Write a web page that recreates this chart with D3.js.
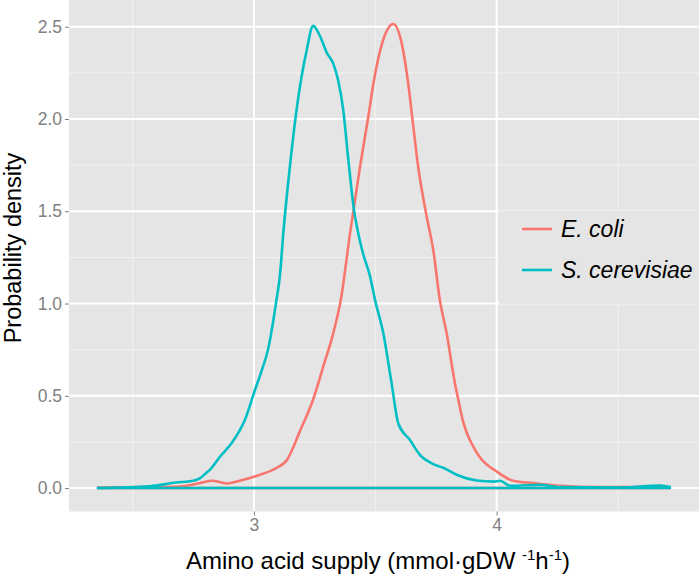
<!DOCTYPE html>
<html>
<head>
<meta charset="utf-8">
<script src="https://cdn.jsdelivr.net/npm/d3@7"></script>
<style>
  body { margin: 0; background: #fff; }
  text { font-family: "Liberation Sans", Arial, sans-serif; }
</style>
</head>
<body>
<div id="chart"></div>
<script>
// density curves (x in mmol/gDW/h, y = density)
const species = ["E. coli", "S. cerevisiae"];
const colors = ["#F8766D", "#00BFC4"];

const ecoliX = [2.353, 2.571, 2.695, 2.778, 2.827, 2.888, 2.956, 3.016, 3.094, 3.135, 3.190, 3.244, 3.286, 3.327, 3.358, 3.396, 3.437, 3.471, 3.492, 3.533, 3.574, 3.609, 3.636, 3.655, 3.677, 3.712, 3.739, 3.766, 3.794, 3.828, 3.842, 3.862, 3.880, 3.910, 3.935, 4.000, 4.068, 4.151, 4.261, 4.426, 4.600, 4.718];
const ecoliY = [0.003, 0.005, 0.008, 0.027, 0.040, 0.025, 0.045, 0.068, 0.110, 0.150, 0.310, 0.480, 0.660, 0.840, 1.020, 1.380, 1.740, 2.010, 2.190, 2.430, 2.515, 2.410, 2.190, 1.980, 1.740, 1.470, 1.290, 1.020, 0.840, 0.570, 0.480, 0.360, 0.290, 0.210, 0.160, 0.090, 0.040, 0.027, 0.012, 0.005, 0.006, 0.003];

const yeastX = [2.353, 2.571, 2.679, 2.749, 2.765, 2.802, 2.819, 2.860, 2.909, 2.963, 3.004, 3.033, 3.058, 3.093, 3.107, 3.121, 3.148, 3.181, 3.217, 3.244, 3.272, 3.300, 3.327, 3.347, 3.368, 3.389, 3.412, 3.430, 3.450, 3.478, 3.499, 3.533, 3.567, 3.595, 3.643, 3.684, 3.739, 3.780, 3.835, 3.918, 3.990, 4.014, 4.055, 4.178, 4.261, 4.508, 4.673, 4.718];
const yeastY = [0.000, 0.010, 0.030, 0.040, 0.045, 0.080, 0.100, 0.170, 0.245, 0.370, 0.530, 0.640, 0.750, 1.020, 1.150, 1.380, 1.740, 2.100, 2.370, 2.505, 2.450, 2.360, 2.300, 2.210, 2.050, 1.780, 1.510, 1.380, 1.270, 1.150, 1.020, 0.840, 0.570, 0.350, 0.260, 0.180, 0.130, 0.110, 0.072, 0.041, 0.035, 0.040, 0.012, 0.018, 0.005, 0.003, 0.014, 0.005];

const xTicks = [3, 4];
const xMinor = [2.5, 3.5, 4.5];
const yTicks = [0, 0.5, 1, 1.5, 2, 2.5];
const yMinor = [0.25, 0.75, 1.25, 1.75, 2.25];

const width = 700, height = 575;
const panel = { left: 69, right: 699, top: 0, bottom: 511.5 };

const svg = d3.select("#chart").append("svg")
    .attr("width", width)
    .attr("height", height);

const x = d3.scaleLinear().domain([2.238, 4.834]).range([panel.left, panel.right]);
const y = d3.scaleLinear().domain([-0.127, 2.645]).range([panel.bottom, panel.top]);

// panel background
svg.append("rect")
    .attr("x", panel.left).attr("y", panel.top)
    .attr("width", panel.right - panel.left)
    .attr("height", panel.bottom - panel.top)
    .attr("fill", "#E5E5E5");

// minor grid
svg.append("g").selectAll("line").data(yMinor).join("line")
    .attr("x1", panel.left).attr("x2", panel.right)
    .attr("y1", d => y(d)).attr("y2", d => y(d))
    .attr("stroke", "#F2F2F2").attr("stroke-width", 1);
svg.append("g").selectAll("line").data(xMinor).join("line")
    .attr("y1", panel.top).attr("y2", panel.bottom)
    .attr("x1", d => x(d)).attr("x2", d => x(d))
    .attr("stroke", "#F2F2F2").attr("stroke-width", 1);

// major grid
svg.append("g").selectAll("line").data(yTicks).join("line")
    .attr("x1", panel.left).attr("x2", panel.right)
    .attr("y1", d => y(d)).attr("y2", d => y(d))
    .attr("stroke", "#fff").attr("stroke-width", 2);
svg.append("g").selectAll("line").data(xTicks).join("line")
    .attr("y1", panel.top).attr("y2", panel.bottom)
    .attr("x1", d => x(d)).attr("x2", d => x(d))
    .attr("stroke", "#fff").attr("stroke-width", 2);

// density outlines (closed along the baseline, like geom_density)
const series = [
    ecoliX.map((v, i) => [v, ecoliY[i]]),
    yeastX.map((v, i) => [v, yeastY[i]])
];
const curve = d3.line()
    .x(d => x(d[0])).y(d => y(d[1]))
    .curve(d3.curveMonotoneX);

series.forEach((pts, i) => {
    const g = svg.append("g");
    g.append("path")
        .attr("d", curve(pts))
        .attr("fill", "none")
        .attr("stroke", colors[i])
        .attr("stroke-width", 2.6);
    g.append("line")
        .attr("x1", x(pts[0][0])).attr("x2", x(pts[pts.length - 1][0]))
        .attr("y1", y(0)).attr("y2", y(0))
        .attr("stroke", colors[i])
        .attr("stroke-width", 2.6);
});

// axes
const yAxis = svg.append("g")
    .attr("transform", `translate(${panel.left},0)`)
    .call(d3.axisLeft(y).tickValues(yTicks).tickFormat(d3.format(".1f")).tickSize(4).tickPadding(3));
const xAxis = svg.append("g")
    .attr("transform", `translate(0,${panel.bottom})`)
    .call(d3.axisBottom(x).tickValues(xTicks).tickFormat(d3.format("d")).tickSize(4).tickPadding(3));

[yAxis, xAxis].forEach(a => {
    a.select(".domain").remove();
    a.selectAll(".tick line").attr("stroke", "#7F7F7F").attr("stroke-width", 1);
    a.selectAll(".tick text")
        .attr("fill", "#7F7F7F")
        .style("font-size", "17.5px")
        .style("font-family", "Liberation Sans, Arial, sans-serif");
});

// axis titles
const xt = svg.append("text")
    .attr("x", 378)
    .attr("y", 569)
    .attr("text-anchor", "middle")
    .style("font-size", "24px")
    .attr("fill", "#000");
xt.append("tspan").text("Amino acid supply (mmol\u00B7gDW ");
xt.append("tspan").attr("dy", -9).style("font-size", "15px").text("-1");
xt.append("tspan").attr("dy", 9).text("h");
xt.append("tspan").attr("dy", -9).style("font-size", "15px").text("-1");
xt.append("tspan").attr("dy", 9).text(")");

svg.append("text")
    .attr("transform", "translate(20.5,248) rotate(-90)")
    .attr("text-anchor", "middle")
    .style("font-size", "23.5px")
    .attr("fill", "#000")
    .text("Probability density");

// legend
const legend = svg.append("g");
legend.append("rect")
    .attr("x", 499).attr("y", 210.5)
    .attr("width", panel.right - 499).attr("height", 94)
    .attr("fill", "#E5E5E5");

const keyY = [229, 270];
species.forEach((s, i) => {
    legend.append("line")
        .attr("x1", 522).attr("x2", 552)
        .attr("y1", keyY[i]).attr("y2", keyY[i])
        .attr("stroke", colors[i]).attr("stroke-width", 2.6);
    legend.append("text")
        .attr("x", 561).attr("y", keyY[i] + 8)
        .style("font-size", "23px")
        .style("font-style", "italic")
        .attr("fill", "#000")
        .text(s);
});
</script>
</body>
</html>
